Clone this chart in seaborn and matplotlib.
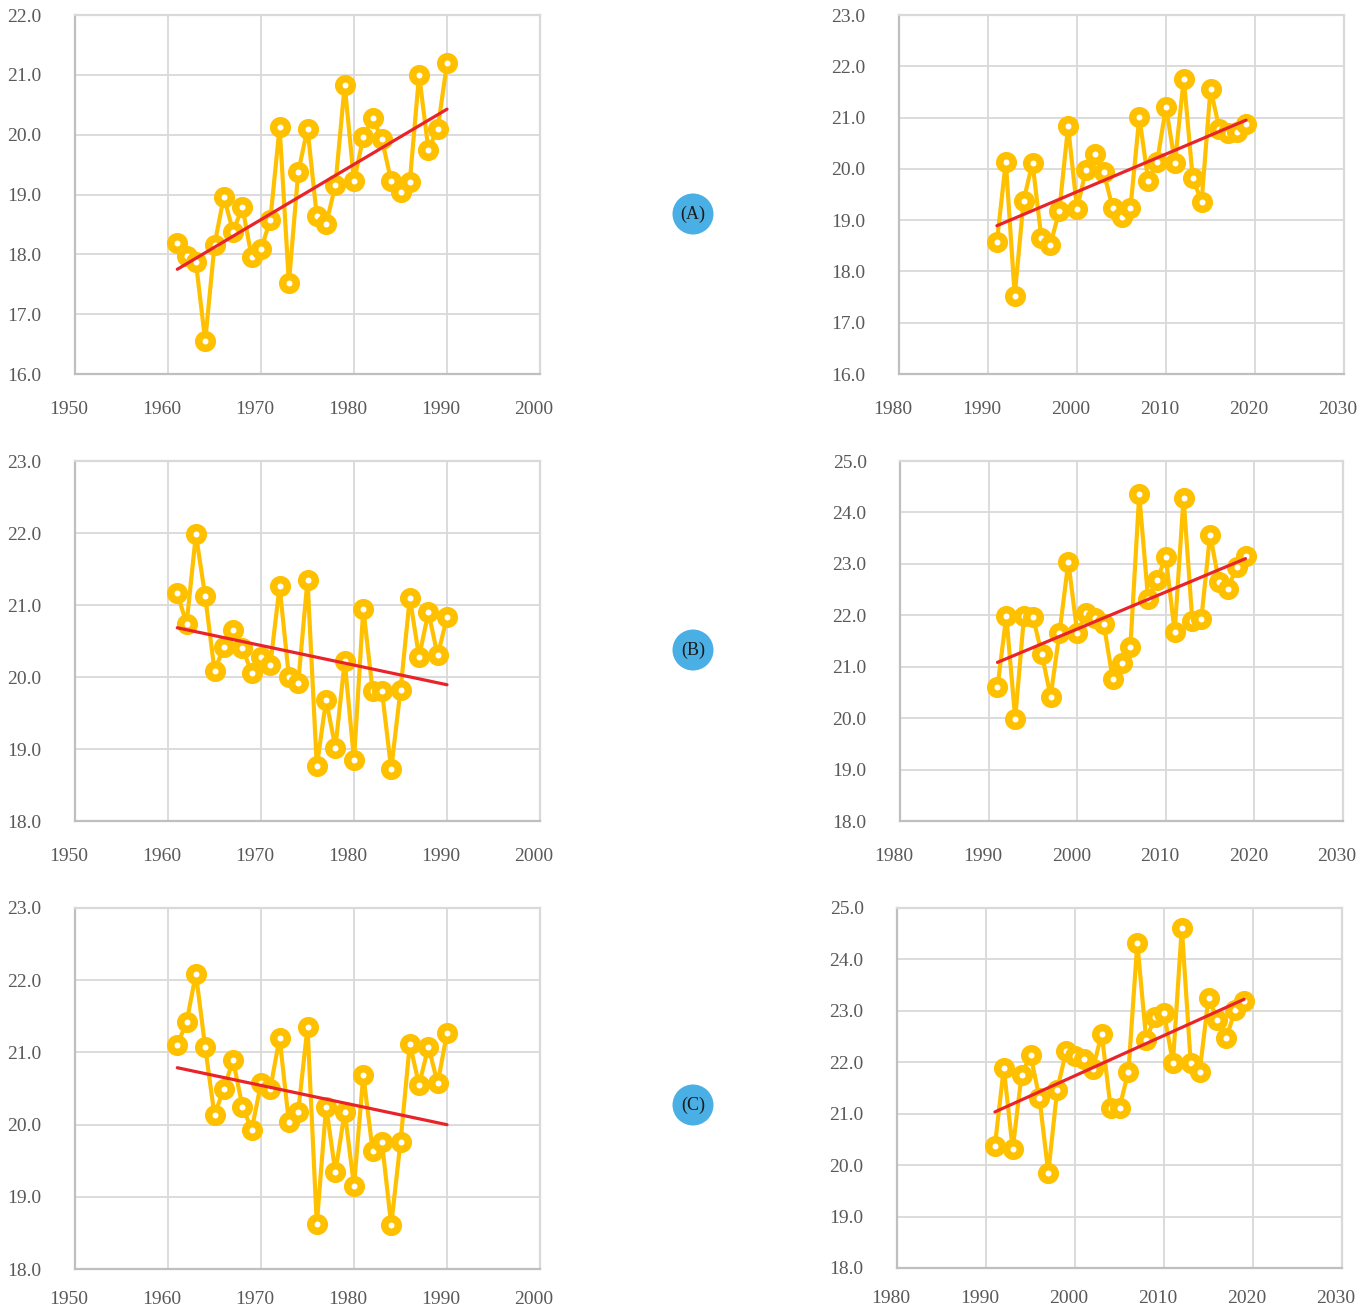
import numpy as np
import pandas as pd
import matplotlib
matplotlib.use("Agg")
import matplotlib.pyplot as plt
from matplotlib.patches import Ellipse
from matplotlib.transforms import ScaledTranslation
import seaborn as sns

# ---- data -------------------------------------------------------------
years_early = list(range(1961, 1991))
years_late = list(range(1991, 2020))

a_early = [18.19, 17.97, 17.87, 16.55, 18.16, 18.96, 18.38, 18.79, 17.95, 18.09,
           18.57, 20.13, 17.52, 19.37, 20.10, 18.64, 18.50, 19.16, 20.83, 19.22,
           19.96, 20.28, 19.92, 19.23, 19.05, 19.21, 21.00, 19.75, 20.10, 21.19]
a_late = [18.58, 20.14, 17.53, 19.38, 20.12, 18.65, 18.52, 19.17, 20.83, 19.22,
          19.97, 20.29, 19.94, 19.24, 19.07, 19.23, 21.01, 19.77, 20.14, 21.21,
          20.12, 21.76, 19.82, 19.36, 21.56, 20.78, 20.70, 20.72, 20.87]

b_early = [21.16, 20.74, 21.98, 21.12, 20.09, 20.41, 20.65, 20.40, 20.06, 20.28,
           20.17, 21.26, 20.00, 19.92, 21.35, 18.76, 19.68, 19.02, 20.22, 18.85,
           20.95, 19.81, 19.81, 18.72, 19.82, 21.10, 20.28, 20.90, 20.30, 20.83]
b_late = [20.60, 21.99, 19.99, 21.99, 21.97, 21.25, 20.42, 21.66, 23.04, 21.66,
          22.04, 21.95, 21.83, 20.77, 21.07, 21.38, 24.35, 22.32, 22.69, 23.13,
          21.68, 24.28, 21.88, 21.92, 23.57, 22.65, 22.52, 22.94, 23.15]

c_early = [21.10, 21.42, 22.09, 21.07, 20.13, 20.50, 20.89, 20.25, 19.93, 20.57,
           20.50, 21.20, 20.03, 20.18, 21.35, 18.62, 20.25, 19.34, 20.18, 19.15,
           20.69, 19.64, 19.76, 18.61, 19.76, 21.12, 20.55, 21.08, 20.57, 21.27]
c_late = [20.38, 21.89, 20.31, 21.76, 22.14, 21.31, 19.85, 21.47, 22.21, 22.12,
          22.06, 21.87, 22.55, 21.12, 21.12, 21.82, 24.32, 22.44, 22.89, 22.96,
          21.99, 24.62, 21.99, 21.81, 23.25, 22.83, 22.47, 23.02, 23.20]

panel_labels = ["(A)", "(B)", "(C)"]
xlims_early = (1950, 2000)
xlims_late = (1980, 2030)
ylims = [((16, 22), (16, 23)), ((18, 23), (18, 25)), ((18, 23), (18, 25))]

# ---- style ------------------------------------------------------------
sns.set_theme(style="white")
plt.rcParams["font.family"] = ["Liberation Serif", "DejaVu Serif"]

GOLD = "#FFC000"
RED = "#E8242A"
GRID = "#D9D9D9"
AXIS = "#BFBFBF"
TEXT = "#595959"
BADGE = "#4AAFE4"

W, H = 1371, 1310
fig = plt.figure(figsize=(W / 100, H / 100), dpi=100)
fig.patch.set_facecolor("white")

# axes boxes in pixels: (left, right, top, bottom)
boxes = [
    [(75, 540, 15, 374), (899, 1344, 15, 374)],
    [(75, 540, 461, 821), (900, 1343, 461, 821)],
    [(75, 540, 908, 1269), (897, 1342, 908, 1268)],
]
xpads = [19.5, 19.5, 16.0]
badge_y = [214, 650, 1105]

series = [(a_early, a_late), (b_early, b_late), (c_early, c_late)]


def draw_panel(ax, years, values, xlim, ylim, xpad):
    df = pd.DataFrame({"year": years, "temp": values})
    sns.lineplot(data=df, x="year", y="temp", ax=ax, color=GOLD, lw=3.0,
                 marker="o", markersize=9.8, markerfacecolor="white",
                 markeredgecolor=GOLD, markeredgewidth=5.4, zorder=3)
    sns.regplot(data=df, x="year", y="temp", ax=ax, scatter=False, ci=None,
                truncate=True, line_kws=dict(color=RED, lw=2.3, zorder=5))
    ax.set_xlim(*xlim)
    ax.set_ylim(*ylim)
    ax.set_xticks(np.arange(xlim[0], xlim[1] + 1, 10))
    ax.set_yticks(np.arange(ylim[0], ylim[1] + 0.5, 1))
    ax.set_yticklabels([f"{v:.1f}" for v in np.arange(ylim[0], ylim[1] + 0.5, 1)])
    ax.set_xlabel("")
    ax.set_ylabel("")
    ax.grid(True, color=GRID, lw=1.3)
    ax.set_axisbelow(True)
    for side in ("top", "right"):
        ax.spines[side].set_color(GRID)
        ax.spines[side].set_linewidth(1.6)
    for side in ("left", "bottom"):
        ax.spines[side].set_color(AXIS)
        ax.spines[side].set_linewidth(1.6)
    ax.tick_params(axis="x", length=0, pad=xpad, labelsize=14, labelcolor=TEXT)
    ax.tick_params(axis="y", length=0, pad=24, labelsize=14, labelcolor=TEXT)
    shift = ScaledTranslation(-6 / 100, 0, fig.dpi_scale_trans)
    for lab in ax.get_xticklabels():
        lab.set_transform(lab.get_transform() + shift)
    ax.set_facecolor("white")


for row in range(3):
    for col in range(2):
        l, r, t, b = boxes[row][col]
        ax = fig.add_axes([l / W, 1 - b / H, (r - l) / W, (b - t) / H])
        years = years_early if col == 0 else years_late
        xlim = xlims_early if col == 0 else xlims_late
        draw_panel(ax, years, series[row][col], xlim, ylims[row][col], xpads[row])

    # circular panel badge between the two charts
    cx, cy = 693 / W, 1 - badge_y[row] / H
    fig.add_artist(Ellipse((cx, cy), 41 / W, 41 / H, transform=fig.transFigure,
                           facecolor=BADGE, edgecolor="none"))
    fig.text(cx, cy, panel_labels[row], ha="center", va="center",
             fontsize=13, color="#1a1a1a")

fig.savefig("out.png", dpi=100, facecolor="white")
